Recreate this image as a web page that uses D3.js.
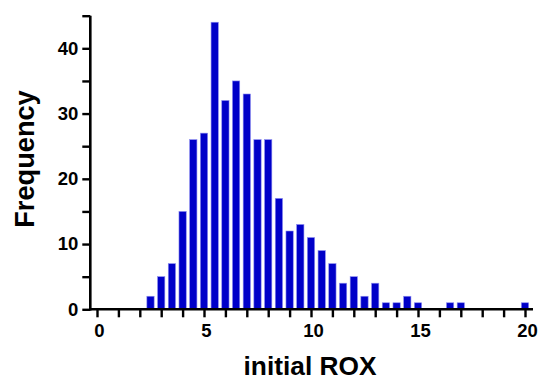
<!DOCTYPE html>
<html><head><meta charset="utf-8">
<script src="https://cdn.jsdelivr.net/npm/d3@7"></script>
<style>body{margin:0;background:#fff}svg{display:block}</style>
</head><body>
<svg id="c" width="539" height="380"></svg>
<script>
const binCenters = [2.5,3,3.5,4,4.5,5,5.5,6,6.5,7,7.5,8,8.5,9,9.5,10,10.5,11,11.5,12,12.5,13,13.5,14,14.5,15,16.5,17,20];
const frequencies = [2,5,7,15,26,27,44,32,35,33,26,26,17,12,13,11,9,7,4,5,2,4,1,1,2,1,1,1,1];
const xTicks = d3.range(0,21,1);
const xTickLabels = [0,5,10,15,20];
const yTicks = d3.range(0,46,5);
const yTickLabels = [0,10,20,30,40];

const svg = d3.select("#c");
const x = d3.scaleLinear().domain([0,20]).range([97,525]);
const y = d3.scaleLinear().domain([0,45]).range([309.3,15.7]);
const font = "'Liberation Sans', Arial, sans-serif";
const barW = (x(0.5)-x(0))*0.68;

svg.append("g").selectAll("rect").data(binCenters).enter().append("rect")
  .attr("x",(d)=>x(d)-barW/2)
  .attr("y",(d,i)=>y(frequencies[i]))
  .attr("width",barW)
  .attr("height",(d,i)=>y(0)-y(frequencies[i]))
  .attr("fill","#0000c8")
  .attr("stroke","#8c8cf0").attr("stroke-width",0.6);

// x axis
const xa = svg.append("g").attr("transform",`translate(0,${y(0)})`)
  .call(d3.axisBottom(x).tickValues(xTicks).tickSizeOuter(0).tickSize(8).tickPadding(7)
    .tickFormat(d=>xTickLabels.includes(d)?d:""));
xa.select(".domain").remove();
xa.append("line").attr("x1",89).attr("x2",533).attr("stroke","#000").attr("stroke-width",2.6);
xa.selectAll(".tick line").attr("stroke","#000").attr("stroke-width",2.4);
xa.selectAll("text").attr("font-family",font).attr("font-weight","bold").attr("font-size",18.5).attr("fill","#000").attr("dx",2);

// y axis
const ya = svg.append("g").attr("transform",`translate(90.3,0)`)
  .call(d3.axisLeft(y).tickValues(yTicks).tickSizeOuter(0).tickSize(8).tickPadding(4)
    .tickFormat(d=>yTickLabels.includes(d)?d:""));
ya.select(".domain").remove();
ya.append("line").attr("y1",y(45)).attr("y2",y(0)+1.3).attr("stroke","#000").attr("stroke-width",2.6);
ya.selectAll(".tick line").attr("stroke","#000").attr("stroke-width",2.4);
ya.selectAll("text").attr("font-family",font).attr("font-weight","bold").attr("font-size",18.5).attr("fill","#000");

svg.append("text").attr("x",310).attr("y",374.5).attr("text-anchor","middle")
  .attr("font-family",font).attr("font-weight","bold").attr("font-size",26.3).text("initial ROX");
svg.append("text").attr("transform","translate(34,159) rotate(-90)").attr("text-anchor","middle")
  .attr("font-family",font).attr("font-weight","bold").attr("font-size",27.2).text("Frequency");
</script>
</body></html>
